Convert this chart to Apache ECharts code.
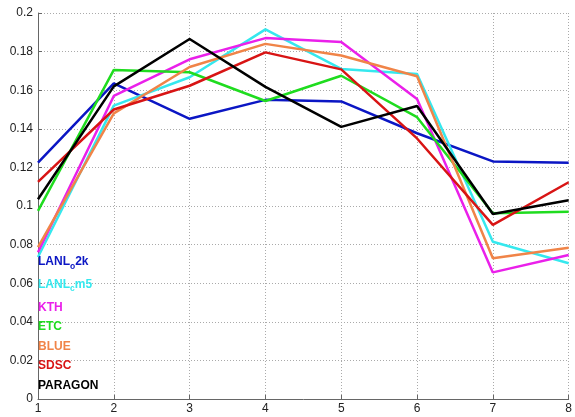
<!DOCTYPE html>
<html><head><meta charset="utf-8">
<script src="https://cdn.jsdelivr.net/npm/echarts@6/dist/echarts.min.js"></script>
<style>html,body{margin:0;padding:0;background:#fff}#c{width:575px;height:417px}</style>
</head><body><div id="c"></div>
<script>
const xs = [1,2,3,4,5,6,7,8];
const names = ['LANLo2k','LANLcm5','KTH','ETC','BLUE','SDSC','PARAGON'];
const lanlO2k = [0.1225,0.1635,0.1452,0.1550,0.1542,0.1377,0.1231,0.1224];
const lanlCm5 = [0.0736,0.1520,0.1667,0.1915,0.1710,0.1684,0.0815,0.0703];
const kth     = [0.0760,0.1570,0.1760,0.1870,0.1850,0.1554,0.0656,0.0746];
const etc     = [0.0975,0.1705,0.1693,0.1544,0.1675,0.1460,0.0962,0.0970];
const blue    = [0.0787,0.1480,0.1720,0.1840,0.1780,0.1672,0.0729,0.0784];
const sdsc    = [0.1125,0.1500,0.1623,0.1796,0.1708,0.1350,0.0902,0.1123];
const paragon = [0.1035,0.1620,0.1865,0.1617,0.1410,0.1518,0.0959,0.1030];
const colors = ['#0b16c4','#35e8ee','#ea20ea','#1fdc1f','#f08448','#d81414','#000000'];
const values = [lanlO2k,lanlCm5,kth,etc,blue,sdsc,paragon];
const yTicks = [0,0.02,0.04,0.06,0.08,0.1,0.12,0.14,0.16,0.18,0.2];

const chart = echarts.init(document.getElementById('c'));
const axisFont = {fontFamily:'Liberation Sans, Arial, sans-serif', fontSize:12, color:'#222'};
chart.setOption({
  animation:false,
  backgroundColor:'#fff',
  grid:{left:38,right:6,top:13,bottom:18},
  xAxis:{type:'value',min:1,max:8,interval:1,
    axisLine:{lineStyle:{color:'#666',width:1}},
    axisTick:{inside:true,length:4,lineStyle:{color:'#666'}},
    axisLabel:Object.assign({margin:4},axisFont),
    splitLine:{show:true,lineStyle:{color:'#aaa',type:[1,2],width:1}}},
  yAxis:{type:'value',min:0,max:0.2,interval:0.02,
    axisLine:{show:true,lineStyle:{color:'#666',width:1}},
    axisTick:{show:true,inside:true,length:4,lineStyle:{color:'#666'}},
    axisLabel:Object.assign({margin:5,formatter:v=>String(+v.toFixed(2))},axisFont),
    splitLine:{show:true,lineStyle:{color:'#aaa',type:[1,2],width:1}}},
  legend:{orient:'vertical',left:33,top:256,itemGap:7.6,icon:'none',itemWidth:0,itemHeight:12,
    padding:0,
    data:names.map((n,i)=>({name:n,textStyle:{color:colors[i]}})),
    formatter:function(n){
      if(n==='LANLo2k') return '{a|LANL}{s|o}{a|2k}';
      if(n==='LANLcm5') return '{a|LANL}{s|c}{a|m5}';
      return '{a|'+n+'}';
    },
    textStyle:{fontFamily:'Liberation Sans, Arial, sans-serif',fontWeight:'bold',fontSize:12,
      rich:{a:{fontFamily:'Liberation Sans, Arial, sans-serif',fontWeight:'bold',fontSize:12},
            s:{fontFamily:'Liberation Sans, Arial, sans-serif',fontWeight:'bold',fontSize:8.5,padding:[9,0,0,0]}}}},
  series:names.map((n,i)=>({name:n,type:'line',symbol:'none',
    data:xs.map((x,j)=>[x,values[i][j]]),
    lineStyle:{color:colors[i],width:2.5},itemStyle:{color:colors[i]}}))
});
</script></body></html>
